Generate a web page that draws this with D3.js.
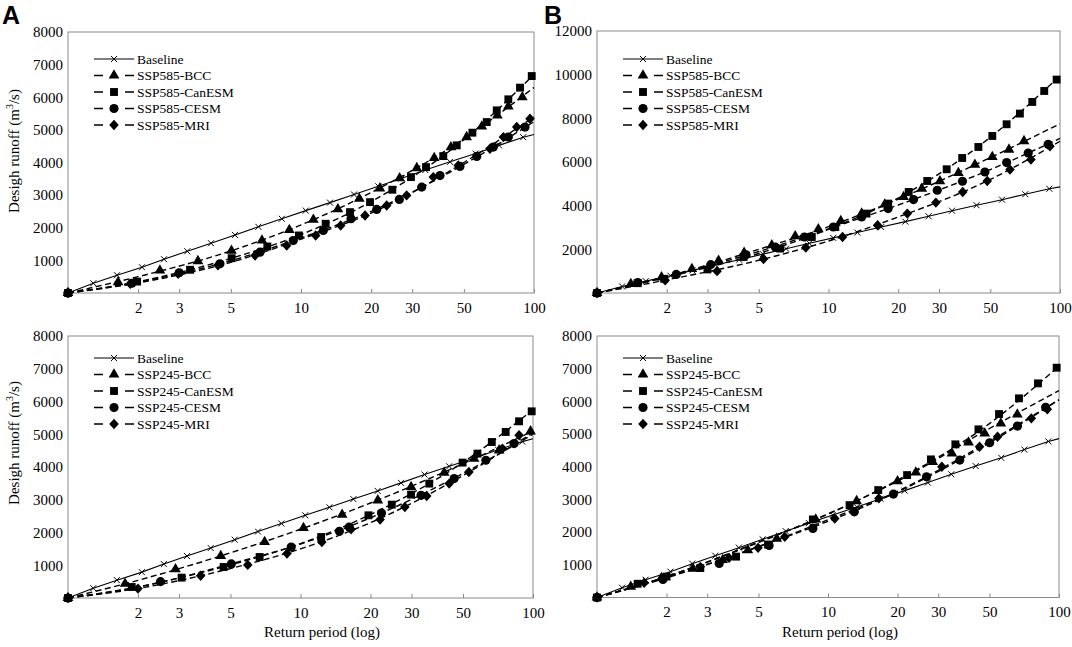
<!DOCTYPE html>
<html>
<head>
<meta charset="utf-8">
<script src="https://cdn.jsdelivr.net/npm/d3@7"></script>
<style>
  body { margin: 0; background: #fff; }
  svg text { font-family: "Liberation Serif", "Times New Roman", serif; fill: #000; }
</style>
</head>
<body>
<svg id="chart" width="1072" height="647"></svg>
<script>
(function () {
    // return periods used for the fitted (dashed) curves
    const FIT_T = [1, 2, 5, 10, 20, 50, 100];
    const X_TICKS = [2, 3, 5, 10, 20, 30, 50, 100];
    const SERIF = "'Liberation Serif', 'Times New Roman', serif";

    // baseline (same in all panels)
    const baseline = [[1, 0], [1.284, 300], [1.623, 545], [2.078, 790], [2.583, 1035], [3.25, 1280], [4.11, 1525],
        [5.21, 1780], [6.56, 2030], [8.27, 2275], [10.48, 2525], [13.32, 2770], [16.89, 3020], [21.47, 3270],
        [27.06, 3515], [34.17, 3770], [43.6, 4020], [56.2, 4275], [70.8, 4525], [89.9, 4775]];
    const baselineEnd = [100, 4860];

    // A top: SSP585
    const a585Bcc = [[1, 0], [1.64, 330], [2.48, 690], [3.61, 980], [5.03, 1295], [6.8, 1610], [8.91, 1935], [11.3, 2245],
        [14.4, 2570], [17.8, 2890], [21.8, 3210], [26.5, 3520], [31.4, 3830], [37.3, 4140], [44, 4470], [51.4, 4780],
        [59.7, 5105], [69.6, 5445], [77.6, 5720], [89.1, 6005]];
    const a585Can = [[1, 0], [1.98, 350], [3.34, 712], [5.04, 1067], [7.17, 1426], [9.8, 1764], [12.76, 2122], [16.23, 2479],
        [19.78, 2785], [24.66, 3166], [29.65, 3552], [34.4, 3859], [40.8, 4196], [46.6, 4525], [54.4, 4914], [62.7, 5239],
        [69.2, 5598], [77.6, 5936], [87.1, 6294], [97.8, 6650]];
    const a585Cesm = [[1, 0], [1.88, 300], [3.0, 620], [4.49, 896], [6.67, 1252], [9.27, 1610], [12.47, 1917], [16.39, 2276],
        [21.13, 2561], [26.42, 2868], [32.96, 3245], [39.5, 3600], [48.1, 3880], [56.8, 4187], [66.9, 4472], [77.6, 4779],
        [91.5, 5086]];
    const a585Mri = [[1, 0], [1.85, 280], [2.97, 590], [4.4, 850], [6.35, 1150], [8.68, 1457], [11.56, 1764], [14.8, 2071],
        [18.83, 2377], [23.32, 2684], [28.4, 2991], [36.98, 3552], [47.3, 3911], [64.7, 4423], [73.9, 4779], [84.3, 5086],
        [96.1, 5343]];
    const a585Fits = [
        [0, 500, 1290, 2085, 3080, 4725, 6300],
        [0, 350, 1060, 1790, 2800, 4700, 6700],
        [0, 330, 990, 1690, 2500, 3940, 5250],
        [0, 310, 940, 1650, 2450, 4000, 5400]
    ];

    // B top: SSP585
    const b585Bcc = [[1, 0], [1.4, 420], [1.9, 720], [2.57, 1100], [3.35, 1480], [4.32, 1850], [5.69, 2190], [7.18, 2600],
        [9.04, 2920], [11.3, 3300], [13.9, 3640], [17.5, 4060], [21.1, 4400], [25.3, 4780], [30.3, 5120], [36.4, 5500],
        [42.9, 5880], [51, 6230], [60.2, 6570], [69.9, 6960]];
    const b585Can = [[1, 0], [1.5, 450], [1.95, 650], [3.0, 1080], [4.3, 1650], [6.18, 2034], [8.47, 2565], [10.7, 3023],
        [14.6, 3637], [18.1, 4095], [22.2, 4627], [26.7, 5131], [32.4, 5667], [37.8, 6184], [44.4, 6688], [51, 7192],
        [58.8, 7728], [67.1, 8218], [75.9, 8750], [85.5, 9253], [96.7, 9775]];
    const b585Cesm = [[1, 0], [1.5, 480], [2.2, 850], [3.1, 1300], [4.4, 1750], [5.9, 2100], [7.87, 2565], [10.5, 3023],
        [13.9, 3482], [18.1, 3866], [23.3, 4279], [29.5, 4705], [37.9, 5117], [47.4, 5543], [58.8, 5973], [72.9, 6413],
        [88.9, 6812]];
    const b585Mri = [[1, 0], [1.97, 580], [3.3, 1000], [5.24, 1560], [7.98, 2080], [11.5, 2565], [16.3, 3101], [21.9, 3637],
        [29.1, 4141], [38, 4627], [48.5, 5131], [60.8, 5652], [74.9, 6110], [90.5, 6720]];
    const b585Fits = [
        [0, 760, 2000, 3040, 4300, 6200, 7750],
        [0, 720, 1810, 2920, 4350, 7130, 9950],
        [0, 750, 1900, 2940, 4030, 5650, 7080],
        [0, 600, 1500, 2380, 3480, 5200, 6950]
    ];

    // A bottom: SSP245
    const a245Bcc = [[1, 0], [1.76, 440], [2.9, 880], [4.54, 1283], [7.01, 1710], [10.3, 2137], [15.1, 2546], [21.5, 2983],
        [29.9, 3389], [41.5, 3829], [55.8, 4256], [71.5, 4510], [97.6, 5090]];
    const a245Can = [[1, 0], [1.88, 336], [3.08, 622], [4.67, 946], [6.67, 1252], [12.27, 1862], [19.6, 2525], [24.7, 2851],
        [29.9, 3157], [35.8, 3493], [49.8, 4134], [57.7, 4409], [66.5, 4763], [76.3, 5069], [87.1, 5395], [98.7, 5700]];
    const a245Cesm = [[1, 0], [2.5, 500], [5.04, 1040], [9.12, 1557], [14.7, 2036], [16.2, 2168], [22.3, 2595], [33, 3136],
        [45.8, 3646], [62.7, 4205], [82.9, 4715]];
    const a245Mri = [[1, 0], [2.0, 287], [3.72, 680], [5.93, 1010], [8.75, 1356], [12.35, 1710], [16.5, 2098], [22, 2394],
        [28.1, 2779], [34.9, 3115], [43.6, 3493], [53, 3847], [73.9, 4562], [87.1, 4968]];
    const a245Fits = [
        [0, 540, 1380, 2100, 2900, 4100, 5100],
        [0, 340, 1010, 1660, 2550, 4140, 5750],
        [0, 330, 1040, 1650, 2450, 3800, 5000],
        [0, 290, 900, 1500, 2300, 3740, 5050]
    ];

    // B bottom: SSP245
    const b245Bcc = [[1, 0], [1.4, 330], [1.9, 600], [2.6, 880], [3.5, 1150], [4.5, 1450], [6, 1800], [8.85, 2388],
        [13.3, 2950], [20, 3561], [24, 3827], [28.4, 4152], [34.4, 4409], [40.6, 4746], [47.7, 5021], [56, 5327], [66, 5603]];
    const b245Can = [[1, 0], [1.5, 420], [2.0, 640], [2.8, 900], [4.0, 1250], [5.5, 1620], [8.6, 2388], [12.4, 2826],
        [16.5, 3286], [22, 3745], [27.9, 4225], [35.6, 4685], [44.8, 5144], [55, 5612], [67.1, 6093], [81.1, 6551], [97.7, 7030]];
    const b245Cesm = [[1, 0], [1.93, 551], [3.38, 1041], [5.56, 1590], [8.6, 2113], [13, 2621], [19.2, 3163], [26.7, 3693],
        [37.2, 4204], [50.1, 4734], [66.1, 5245], [87.5, 5817]];
    const b245Mri = [[1, 0], [1.6, 450], [2.8, 937], [3.73, 1212], [4.98, 1519], [6.5, 1856], [10.7, 2419], [16.6, 3031],
        [31.1, 3999], [45.3, 4611], [54.2, 4918], [75.9, 5480], [89, 5756]];
    const b245Fits = [
        [0, 640, 1680, 2560, 3560, 5170, 6330],
        [0, 640, 1700, 2550, 3590, 5320, 7080],
        [0, 600, 1560, 2330, 3230, 4730, 6050],
        [0, 620, 1550, 2380, 3250, 4780, 6050]
    ];

    const models = ["BCC", "CanESM", "CESM", "MRI"];

    const diamond = {
        draw(ctx, size) {
            const r = Math.sqrt(size) * 0.66;
            ctx.moveTo(0, -r); ctx.lineTo(r * 0.92, 0); ctx.lineTo(0, r); ctx.lineTo(-r * 0.92, 0); ctx.closePath();
        }
    };
    const shapes = [
        d3.symbol().type(d3.symbolTriangle).size(50)(),
        d3.symbol().type(d3.symbolSquare).size(62)(),
        d3.symbol().type(d3.symbolCircle).size(66)(),
        d3.symbol().type(diamond).size(62)()
    ];
    const cross = "M-3,-3L3,3M-3,3L3,-3";

    const panels = [
        { x0: 68, x1: 534, y0: 32, y1: 293, ymax: 8000, ystep: 1000, scen: "SSP585",
          series: [a585Bcc, a585Can, a585Cesm, a585Mri], fits: a585Fits, leg: [94, 59], letter: "A", lx: 2, yTitle: 151 },
        { x0: 597, x1: 1060, y0: 31, y1: 293, ymax: 12000, ystep: 2000, scen: "SSP585",
          series: [b585Bcc, b585Can, b585Cesm, b585Mri], fits: b585Fits, leg: [623, 59], letter: "B", lx: 544 },
        { x0: 68, x1: 533, y0: 336, y1: 598, ymax: 8000, ystep: 1000, scen: "SSP245",
          series: [a245Bcc, a245Can, a245Cesm, a245Mri], fits: a245Fits, leg: [94, 358], yTitle: 443, xTitle: 322 },
        { x0: 597, x1: 1059, y0: 336, y1: 597.5, ymax: 8000, ystep: 1000, scen: "SSP245",
          series: [b245Bcc, b245Can, b245Cesm, b245Mri], fits: b245Fits, leg: [623, 358], xTitle: 840 }
    ];

    const svg = d3.select("#chart");

    panels.forEach((p) => {
        const x = d3.scaleLog().domain([1, 100]).range([p.x0, p.x1]);
        const y = d3.scaleLinear().domain([0, p.ymax]).range([p.y1, p.y0]);
        const g = svg.append("g");

        // frame
        g.append("rect")
            .attr("x", p.x0).attr("y", p.y0)
            .attr("width", p.x1 - p.x0).attr("height", p.y1 - p.y0)
            .attr("fill", "none").attr("stroke", "#8a8a8a").attr("stroke-width", 1);

        // axes
        const xa = g.append("g").attr("transform", `translate(0,${p.y1})`)
            .call(d3.axisBottom(x).tickValues(X_TICKS).tickFormat(d3.format("d")).tickSize(-4).tickPadding(9));
        xa.select(".domain").remove();
        xa.selectAll(".tick line").attr("stroke", "#8a8a8a");
        xa.selectAll("text").attr("font-size", 15).style("font-family", SERIF);

        const ya = g.append("g").attr("transform", `translate(${p.x0},0)`)
            .call(d3.axisLeft(y).tickValues(d3.range(p.ystep, p.ymax + 1, p.ystep))
                .tickFormat(d3.format("d")).tickSize(0).tickPadding(5));
        ya.select(".domain").remove();
        ya.selectAll("text").attr("font-size", 15).style("font-family", SERIF);

        // fitted dashed curves
        const fitLine = d3.line().x(d => x(d[0])).y(d => y(d[1])).curve(d3.curveMonotoneX);
        p.fits.forEach((f) => {
            g.append("path")
                .attr("d", fitLine(FIT_T.map((t, i) => [t, f[i]])))
                .attr("fill", "none").attr("stroke", "#000")
                .attr("stroke-width", 1.4).attr("stroke-dasharray", "6,3.5");
        });

        // baseline solid line + crosses
        g.append("path")
            .attr("d", d3.line().x(d => x(d[0])).y(d => y(d[1]))(baseline.concat([baselineEnd])))
            .attr("fill", "none").attr("stroke", "#000").attr("stroke-width", 1.1);
        g.selectAll(".bm").data(baseline).join("path")
            .attr("transform", d => `translate(${x(d[0])},${y(d[1])})`)
            .attr("d", cross).attr("stroke", "#000").attr("stroke-width", 1);

        // model markers
        p.series.forEach((s, k) => {
            g.append("g").selectAll("path").data(s).join("path")
                .attr("transform", d => `translate(${x(d[0])},${y(d[1])})`)
                .attr("d", shapes[k]).attr("fill", "#000");
        });

        // legend
        const lx = p.leg[0], ly0 = p.leg[1], dy = 16.5;
        const lg = g.append("g");
        lg.append("line").attr("x1", lx).attr("x2", lx + 40).attr("y1", ly0).attr("y2", ly0)
            .attr("stroke", "#000").attr("stroke-width", 1.1);
        lg.append("path").attr("transform", `translate(${lx + 20},${ly0})`).attr("d", cross)
            .attr("stroke", "#000").attr("stroke-width", 1);
        lg.append("text").attr("x", lx + 43).attr("y", ly0).attr("dy", "0.35em")
            .attr("font-size", 13.5).style("font-family", SERIF).text("Baseline");
        models.forEach((m, k) => {
            const ly = ly0 + dy * (k + 1);
            lg.append("line").attr("x1", lx).attr("x2", lx + 40).attr("y1", ly).attr("y2", ly)
                .attr("stroke", "#000").attr("stroke-width", 1.4).attr("stroke-dasharray", "9,22");
            lg.append("path").attr("transform", `translate(${lx + 20},${ly})`).attr("d", shapes[k]).attr("fill", "#000");
            lg.append("text").attr("x", lx + 43).attr("y", ly).attr("dy", "0.35em")
                .attr("font-size", 13.5).style("font-family", SERIF).text(p.scen + "-" + m);
        });

        // titles
        if (p.yTitle) {
            const t = g.append("text")
                .attr("transform", `translate(19,${p.yTitle}) rotate(-90)`)
                .attr("text-anchor", "middle").attr("font-size", 15).style("font-family", SERIF);
            t.append("tspan").text("Desigh runoff (m");
            t.append("tspan").attr("font-size", 10).attr("dy", -6).text("3");
            t.append("tspan").attr("dy", 6).text("/s)");
        }
        if (p.xTitle) {
            g.append("text").attr("x", p.xTitle).attr("y", 637)
                .attr("text-anchor", "middle").attr("font-size", 15).style("font-family", SERIF)
                .text("Return period (log)");
        }
        if (p.letter) {
            g.append("text").attr("x", p.lx).attr("y", 24)
                .style("font-family", "'Liberation Sans', Arial, sans-serif")
                .attr("font-weight", "bold").attr("font-size", 25).text(p.letter);
        }
    });
})();
</script>
</body>
</html>
